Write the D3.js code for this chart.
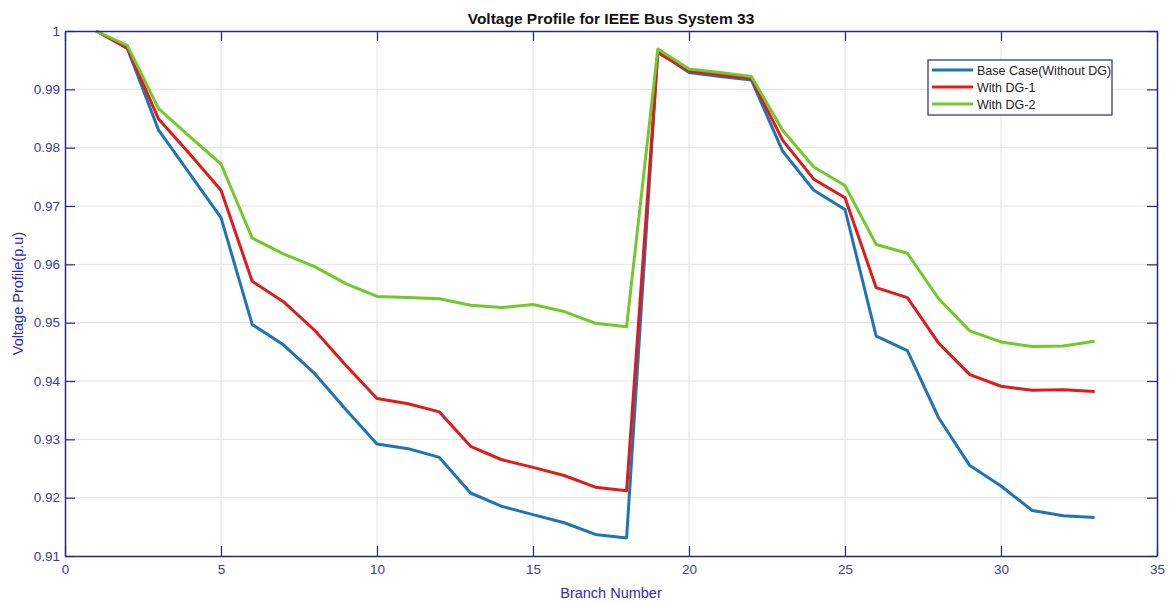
<!DOCTYPE html>
<html>
<head>
<meta charset="utf-8">
<script src="https://cdn.jsdelivr.net/npm/d3@7"></script>
<style>
  html, body { margin: 0; padding: 0; background: #ffffff; }
  svg { display: block; font-family: "Liberation Sans", Arial, sans-serif; }
</style>
</head>
<body>
<svg id="chart" width="1173" height="602"></svg>
<script>
// Branch numbers 1..33
const branches = d3.range(1, 34);

// Bus voltages (p.u.) per branch
const baseCase = [1.0000, 0.9970, 0.9830, 0.9755, 0.9680, 0.9497, 0.9462, 0.9413, 0.9351, 0.9292,
  0.9284, 0.9269, 0.9208, 0.9185, 0.9171, 0.9157, 0.9137, 0.9131, 0.9965, 0.9929,
  0.9922, 0.9916, 0.9794, 0.9727, 0.9694, 0.9477, 0.9452, 0.9337, 0.9255, 0.9220,
  0.9178, 0.9169, 0.9166];
const withDG1 = [1.0000, 0.9971, 0.9849, 0.9789, 0.9727, 0.9571, 0.9536, 0.9487, 0.9427, 0.9370,
  0.9361, 0.9347, 0.9288, 0.9265, 0.9252, 0.9238, 0.9218, 0.9212, 0.9963, 0.9932,
  0.9925, 0.9919, 0.9813, 0.9746, 0.9714, 0.9560, 0.9543, 0.9465, 0.9411, 0.9391,
  0.9384, 0.9385, 0.9382];
const withDG2 = [1.0000, 0.9975, 0.9867, 0.9819, 0.9772, 0.9645, 0.9618, 0.9596, 0.9567, 0.9545,
  0.9543, 0.9541, 0.9530, 0.9526, 0.9531, 0.9519, 0.9499, 0.9493, 0.9969, 0.9935,
  0.9929, 0.9922, 0.9830, 0.9767, 0.9735, 0.9634, 0.9619, 0.9541, 0.9486, 0.9467,
  0.9459, 0.9460, 0.9468];

const seriesNames = ["Base Case(Without DG)", "With DG-1", "With DG-2"];
const seriesColors = ["#1f74b6", "#e01b1b", "#72c92a"];

const xTicks = [0, 5, 10, 15, 20, 25, 30, 35];
const yTicks = [0.91, 0.92, 0.93, 0.94, 0.95, 0.96, 0.97, 0.98, 0.99, 1];

const titleText = "Voltage Profile for IEEE Bus System 33";
const xLabelText = "Branch Number";
const yLabelText = "Voltage Profile(p.u)";

const svg = d3.select("#chart");
const margin = { left: 65, right: 16, top: 31, bottom: 46 };
const W = 1173, H = 602;
const iw = W - margin.left - margin.right;
const ih = H - margin.top - margin.bottom;

const x = d3.scaleLinear().domain([0, 35]).range([margin.left, margin.left + iw]);
const y = d3.scaleLinear().domain([0.91, 1]).range([margin.top + ih, margin.top]);

const axisColor = "#28287e";
const tickTextColor = "#3a3a9c";
const labelColor = "#2a2ac4";

// grid
const grid = svg.append("g");
grid.selectAll("line.gx").data(xTicks.slice(1, -1)).join("line")
  .attr("x1", d => x(d)).attr("x2", d => x(d))
  .attr("y1", margin.top).attr("y2", margin.top + ih)
  .attr("stroke", "#e2e2e2").attr("stroke-width", 1);
grid.selectAll("line.gy").data(yTicks.slice(1, -1)).join("line")
  .attr("y1", d => y(d)).attr("y2", d => y(d))
  .attr("x1", margin.left).attr("x2", margin.left + iw)
  .attr("stroke", "#e2e2e2").attr("stroke-width", 1);

// series lines
const line = d3.line().x((d, i) => x(branches[i])).y(d => y(d));
const allSeries = [baseCase, withDG1, withDG2];
svg.append("g").selectAll("path").data(allSeries).join("path")
  .attr("d", d => line(d))
  .attr("fill", "none")
  .attr("stroke", (d, i) => seriesColors[i])
  .attr("stroke-width", 3)
  .attr("stroke-linejoin", "round");

// axes (inward ticks on all four sides)
function styleAxis(g) {
  g.select(".domain").attr("stroke", axisColor).attr("stroke-width", 1.5);
  g.selectAll(".tick line").attr("stroke", axisColor).attr("stroke-width", 1.2);
  g.selectAll(".tick text").attr("fill", tickTextColor)
    .style("font-size", "13.5px").style("font-family", "Liberation Sans, Arial, sans-serif");
}
const fmtY = d => (d === 1 ? "1" : d3.format(".2f")(d));

svg.append("g").attr("transform", `translate(0,${margin.top + ih})`)
  .call(d3.axisBottom(x).tickValues(xTicks).tickSizeInner(-10).tickSizeOuter(0).tickPadding(8).tickFormat(d3.format("d")))
  .call(styleAxis);
svg.append("g").attr("transform", `translate(0,${margin.top})`)
  .call(d3.axisTop(x).tickValues(xTicks).tickSizeInner(-10).tickSizeOuter(0).tickFormat(""))
  .call(styleAxis);
svg.append("g").attr("transform", `translate(${margin.left},0)`)
  .call(d3.axisLeft(y).tickValues(yTicks).tickSizeInner(-10).tickSizeOuter(0).tickPadding(5).tickFormat(fmtY))
  .call(styleAxis);
svg.append("g").attr("transform", `translate(${margin.left + iw},0)`)
  .call(d3.axisRight(y).tickValues(yTicks).tickSizeInner(-10).tickSizeOuter(0).tickFormat(""))
  .call(styleAxis);

// title and axis labels
svg.append("text").attr("x", x(17.5)).attr("y", 24)
  .attr("text-anchor", "middle").attr("fill", "#111")
  .style("font-size", "15.5px").style("font-weight", "bold")
  .text(titleText);
svg.append("text").attr("x", x(17.5)).attr("y", 598)
  .attr("text-anchor", "middle").attr("fill", labelColor)
  .style("font-size", "14.5px")
  .text(xLabelText);
svg.append("text")
  .attr("transform", `translate(23,${margin.top + ih / 2}) rotate(-90)`)
  .attr("text-anchor", "middle").attr("fill", labelColor)
  .style("font-size", "14.5px")
  .text(yLabelText);

// legend
const lg = svg.append("g").attr("transform", "translate(928,60)");
lg.append("rect").attr("width", 184).attr("height", 55)
  .attr("fill", "#fff").attr("stroke", axisColor).attr("stroke-width", 1.2);
seriesNames.forEach((name, i) => {
  const ry = 10 + i * 17;
  lg.append("line").attr("x1", 4).attr("x2", 45).attr("y1", ry).attr("y2", ry)
    .attr("stroke", seriesColors[i]).attr("stroke-width", 3);
  lg.append("text").attr("x", 49).attr("y", ry + 4.5)
    .attr("fill", "#222").style("font-size", "12.5px").text(name);
});
</script>
</body>
</html>
